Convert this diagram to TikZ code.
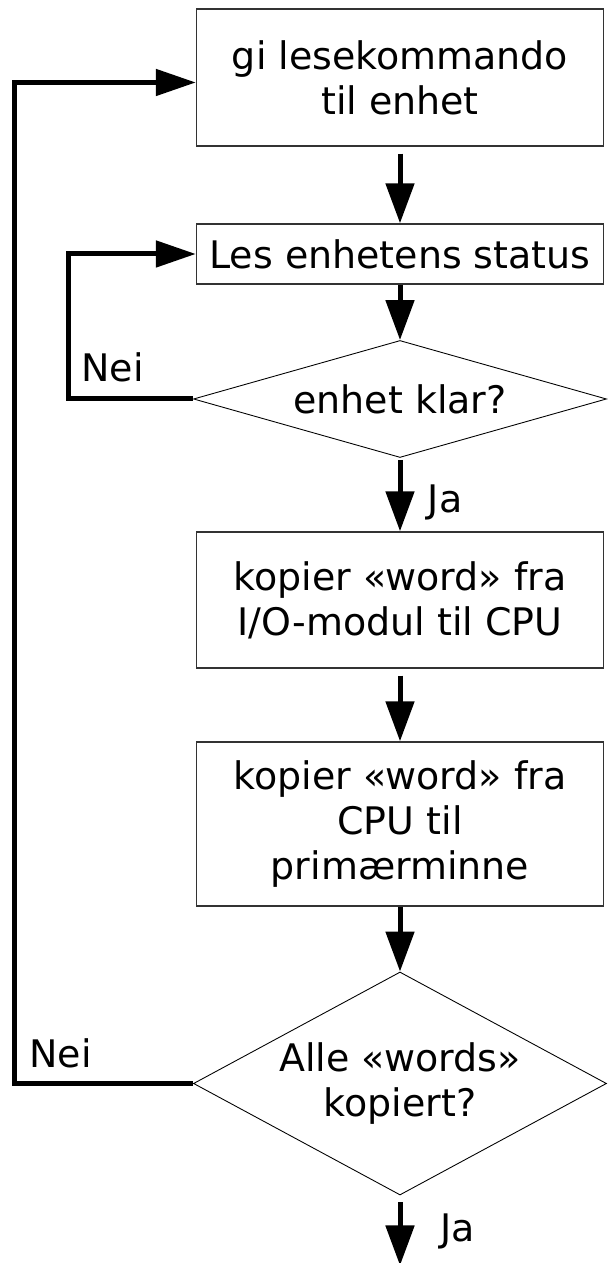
\documentclass[tikz,border=0pt]{standalone}
\usepackage{fontspec}
\setmainfont{DejaVu Sans}
\usepackage{tikz}
\usetikzlibrary{positioning,arrows.meta}
\usetikzlibrary{shapes.geometric}

\tikzset{
  boks/.style={draw=black!80, line width=0.8pt, minimum width=8.14cm, align=center, inner sep=0pt},
  valg/.style={diamond, draw, line width=0.5pt, minimum width=8.26cm, inner sep=0pt, align=center},
  flyt/.style={line width=0.1cm, -{Triangle[length=0.8cm,width=0.56cm]}},
  retur/.style={line width=0.1cm, -{Triangle[length=0.8cm,width=0.52cm]}},
  svar/.style={inner sep=0pt, anchor=base west},
}

\begin{document}
\begin{tikzpicture}[scale=1, font=\fontsize{21.6pt}{25.5pt}\selectfont]
  \useasboundingbox (0,0) rectangle (12.16,25.26);

  % bokser og valg
  \node[boks, minimum height=2.74cm] (kommando) at (8,23.71) {gi lesekommando\\til enhet};
  \node[boks, minimum height=1.2cm] (status) at (8,20.18) {Les enhetens status};
  \node[valg, aspect=3.53, minimum height=2.34cm] (klar) at (8,17.28) {enhet klar?};
  \node[boks, minimum height=2.72cm] (kopi1) at (8,13.26) {kopier «word» fra\\I/O-modul til CPU};
  \node[boks, minimum height=3.28cm] (kopi2) at (8,8.78) {kopier «word» fra\\CPU til\hspace*{0.32em}\\primærminne};
  \node[valg, aspect=1.85, minimum height=4.46cm] (alle) at (8,3.59) {Alle «words»\\kopiert?};
  \coordinate (slutt) at (8,-0.05);

  % piler nedover
  \draw[flyt, shorten <=0.14cm] (kommando) -- (status);
  \draw[flyt] (status) -- (klar);
  \draw[flyt, shorten <=0.04cm] (klar) -- (kopi1);
  \draw[flyt, shorten <=0.14cm] (kopi1) -- (kopi2);
  \draw[flyt] (kopi2) -- (alle);
  \draw[flyt, shorten <=0.14cm] (alle) -- (slutt);

  % tilbake
  \draw[retur] (klar.west) -- ++(-2.5,0) |- (status.west);
  \draw[retur] (alle.west) -- ++(-3.57,0) |- ([yshift=-0.1cm]kommando.west);

  % etiketter
  \node[svar] (nei1) at (1.62,17.62) {Nei};
  \node[svar] (ja1) at (8.55,15.0) {Ja};
  \node[svar] (nei2) at (0.58,3.9) {Nei};
  \node[svar] (ja2) at (8.8,0.42) {Ja};
\end{tikzpicture}
\end{document}
